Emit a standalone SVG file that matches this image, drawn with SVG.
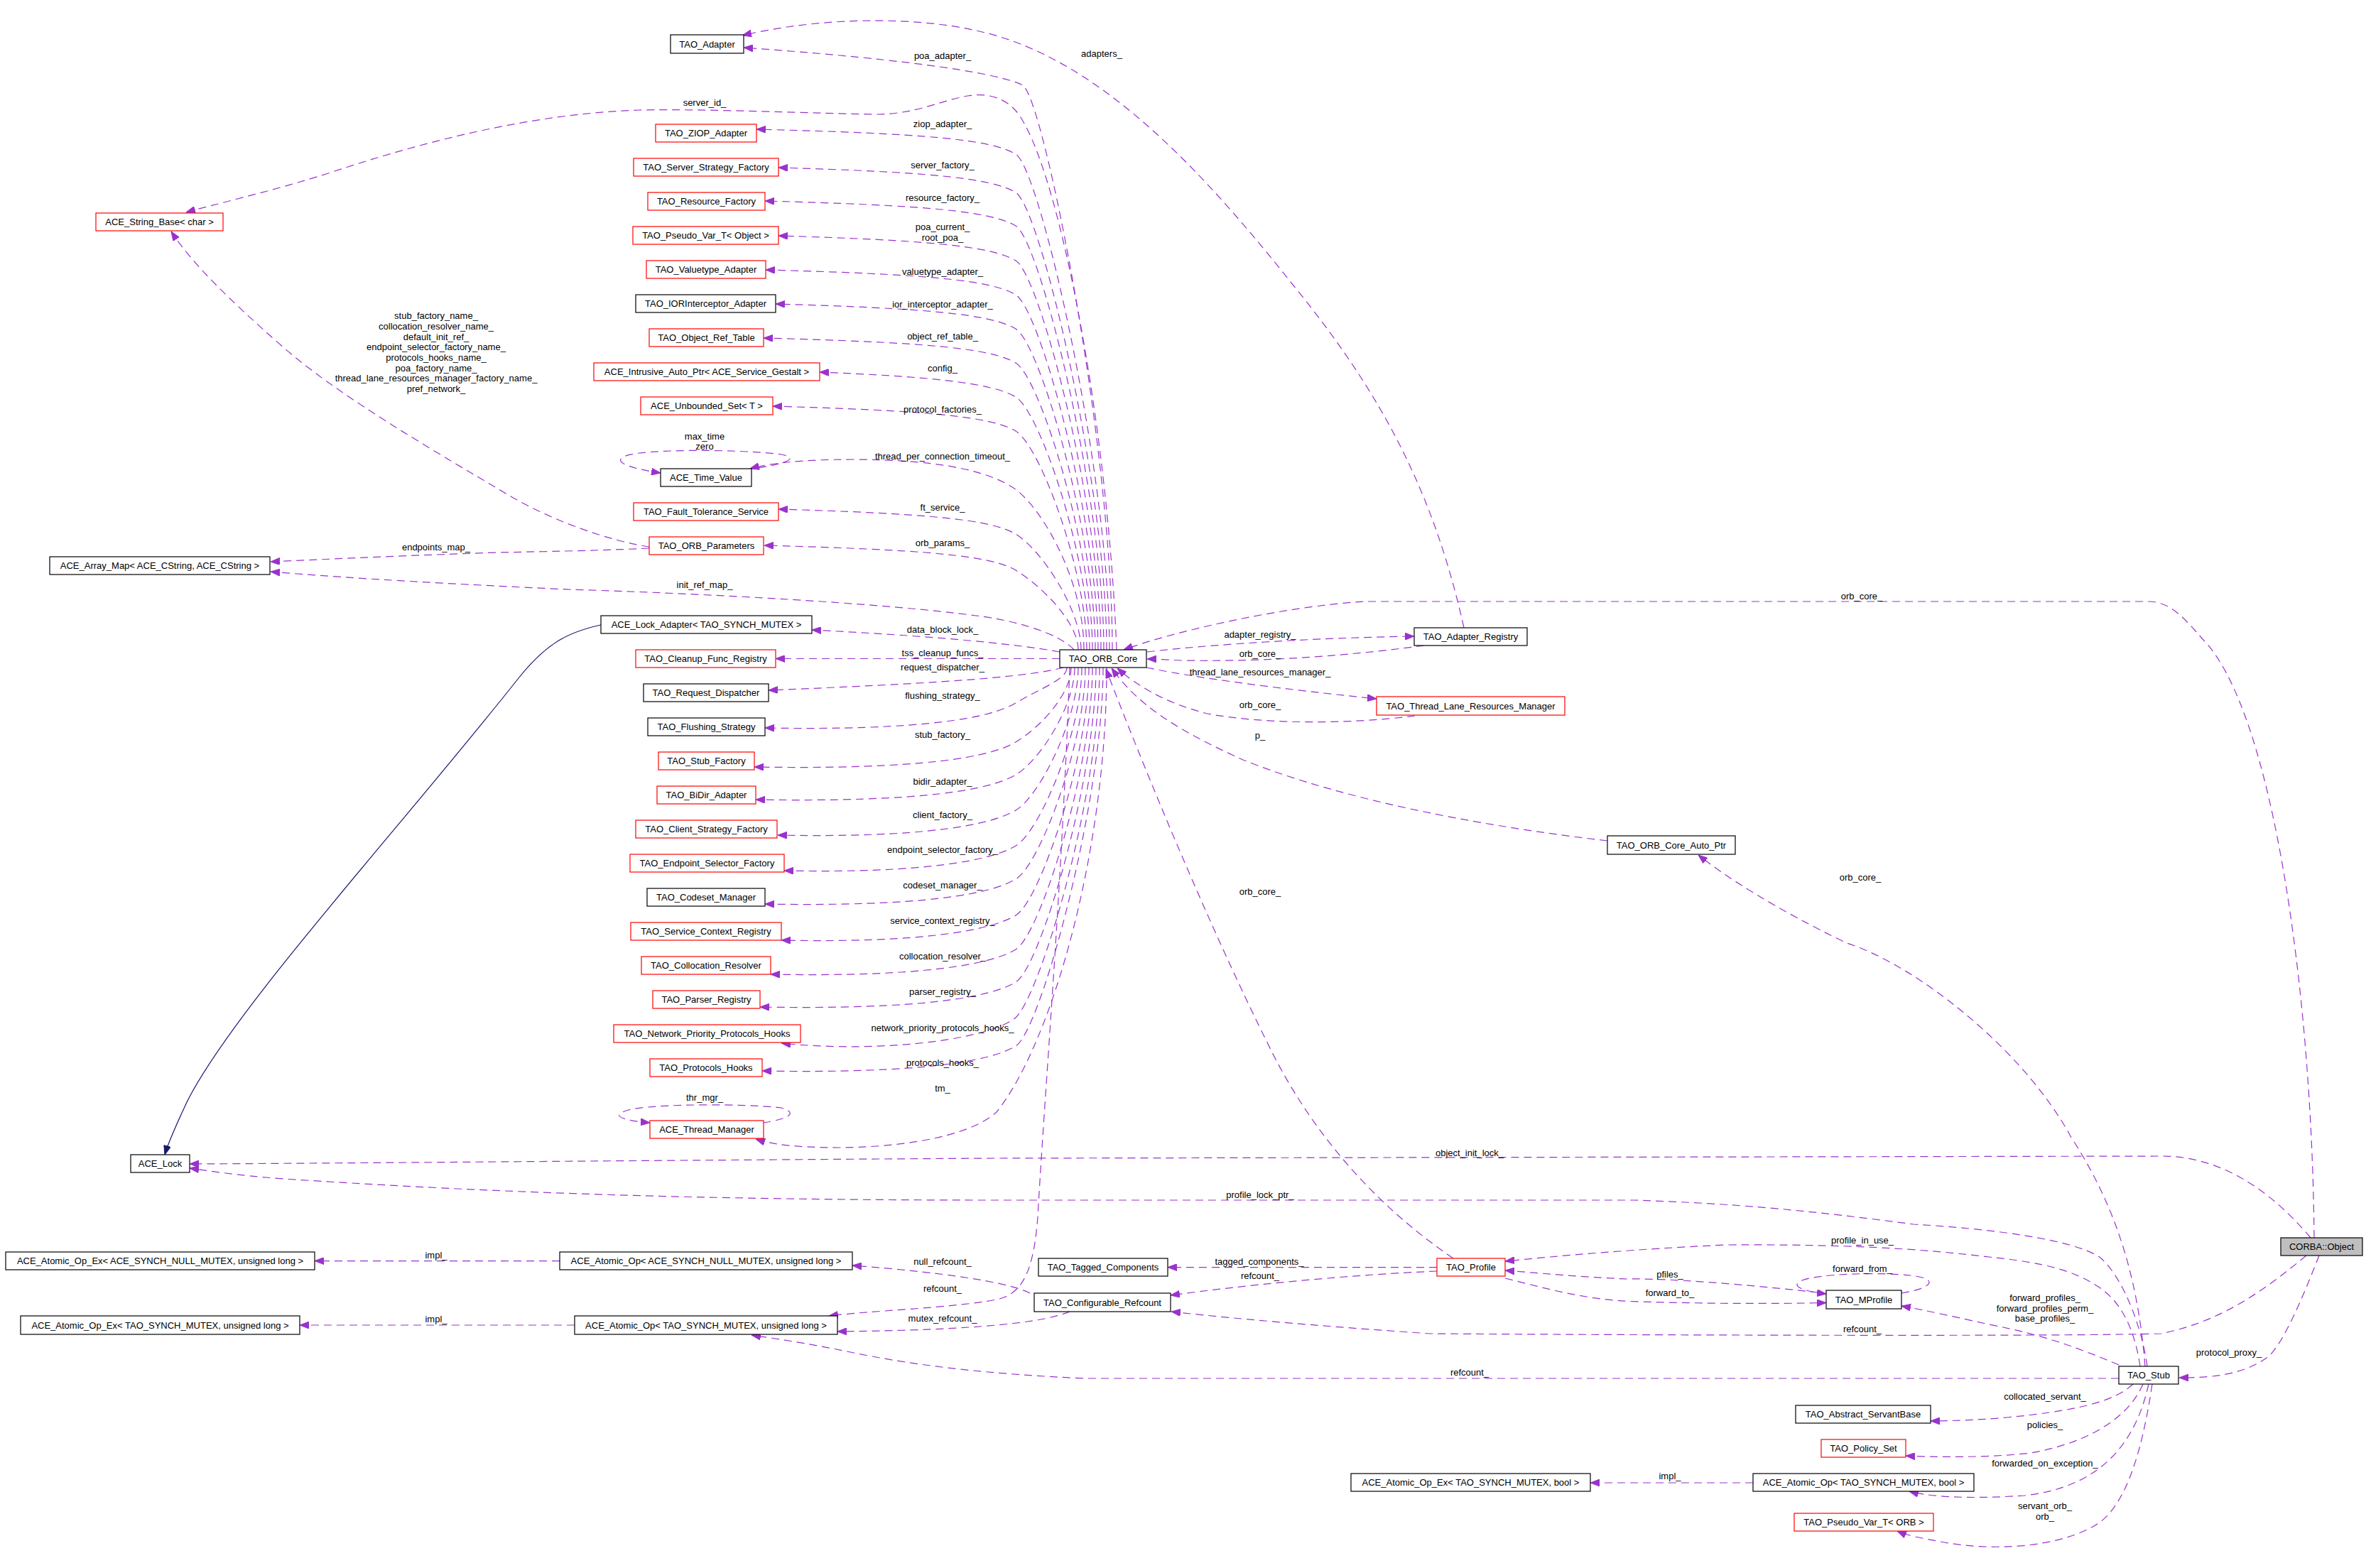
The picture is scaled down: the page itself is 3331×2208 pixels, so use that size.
<svg xmlns="http://www.w3.org/2000/svg" width="3331" height="2208" viewBox="0 0 3331 2208">
<style>
text{font-family:"Liberation Sans",Arial,sans-serif;font-size:13px;fill:#000;text-anchor:middle}
.n rect{fill:#fff;stroke:#000;stroke-width:1.2}
.r rect{fill:#fff;stroke:#ff0000;stroke-width:1.2}
.g rect{fill:#bfbfbf;stroke:#000;stroke-width:1.2}
.e{fill:none;stroke:#9a32cd;stroke-width:1.2;stroke-dasharray:11,7;marker-end:url(#a)}
.i{fill:none;stroke:#191970;stroke-width:1.2;marker-end:url(#b)}
</style>
<defs>
<marker id="a" markerWidth="13" markerHeight="10" refX="13" refY="5" orient="auto" markerUnits="userSpaceOnUse" viewBox="0 0 13 10"><path d="M0,0 L13,5 L0,10 z" fill="#9a32cd" stroke="#9a32cd" stroke-width="1"/></marker>
<marker id="b" markerWidth="13" markerHeight="10" refX="13" refY="5" orient="auto" markerUnits="userSpaceOnUse" viewBox="0 0 13 10"><path d="M0,0 L13,5 L0,10 z" fill="#191970" stroke="#191970" stroke-width="1"/></marker>
</defs>
<rect width="3331" height="2208" fill="#fff"/>
<g id="edges">
<path class="e" d="M1566,915 C1566,630 1470,140 1440,120 C1410,105 1300,85 1047,67"/>
<path class="e" d="M1572,915 C1560,600 1490,230 1431,157 C1415,138 1390,130 1362,135 C1320,143 1290,160 1236,161 C1150,160 1000,153 900,155 C750,160 600,198 459,245 C380,270 300,288 262,299"/>
<path class="e" d="M1562,915 C1562,671 1465,238 1430,217 C1395,196 1300,188 1065,182"/>
<path class="e" d="M1558,915 C1558,690 1465,292 1430,271 C1395,250 1300,242 1096,236"/>
<path class="e" d="M1554,915 C1554,706 1465,339 1430,318 C1395,297 1300,289 1077,283"/>
<path class="e" d="M1550,915 C1550,723 1465,388 1430,367 C1395,346 1300,338 1096,332"/>
<path class="e" d="M1546,915 C1546,740 1465,436 1430,415 C1395,394 1300,386 1078,380"/>
<path class="e" d="M1542,915 C1542,757 1465,484 1430,463 C1395,442 1300,434 1092,428"/>
<path class="e" d="M1538,915 C1538,774 1465,532 1430,511 C1395,490 1300,482 1075,476"/>
<path class="e" d="M1534,915 C1534,790 1465,580 1430,559 C1395,538 1300,530 1154,524"/>
<path class="e" d="M1530,915 C1530,807 1465,628 1430,607 C1395,586 1300,578 1088,572"/>
<path class="e" d="M1526,915 C1526,820 1470,720 1431,690 C1390,660 1310,647 1200,647 C1130,647 1085,652 1056,660"/>
<path class="e" d="M1050,661 C1100,655 1130,646 1100,640 C1060,634 950,632 900,638 C860,643 862,656 930,666"/>
<path class="e" d="M1522,915 C1522,858 1465,773 1430,752 C1395,731 1300,723 1096,717"/>
<path class="e" d="M1518,915 C1518,876 1465,824 1430,803 C1395,782 1300,774 1076,768"/>
<path class="e" d="M914,770 C860,762 780,735 714,696 C620,640 480,560 400,490 C320,420 270,370 241,326"/>
<path class="e" d="M914,772 C850,775 800,776 700,778 C550,783 450,788 381,791"/>
<path class="e" d="M1512,915 C1490,890 1420,872 1374,867 C1250,850 1000,836 800,830 C650,823 500,815 381,805"/>
<path class="e" d="M1492,918 C1420,905 1300,895 1143,887"/>
<path class="e" d="M1492,927.5 L1092,927.5"/>
<path class="e" d="M1497,940 C1440,955 1300,963 1082,972"/>
<path class="e" d="M1502,940 C1502,957 1465,969 1430,990 C1395,1011 1300,1029 1077,1025"/>
<path class="e" d="M1508,940 C1508,977 1465,1024 1430,1045 C1395,1066 1300,1084 1062,1080"/>
<path class="e" d="M1513,940 C1513,993 1465,1070 1430,1091 C1395,1112 1300,1130 1064,1126"/>
<path class="e" d="M1518,940 C1518,1010 1465,1120 1430,1141 C1395,1162 1300,1180 1095,1176"/>
<path class="e" d="M1523,940 C1523,1028 1465,1170 1430,1191 C1395,1212 1300,1230 1104,1226"/>
<path class="e" d="M1528,940 C1528,1044 1465,1217 1430,1238 C1395,1259 1300,1277 1077,1273"/>
<path class="e" d="M1533,940 C1533,1062 1465,1268 1430,1289 C1395,1310 1300,1328 1100,1324"/>
<path class="e" d="M1538,940 C1538,1079 1465,1316 1430,1337 C1395,1358 1300,1376 1085,1372"/>
<path class="e" d="M1543,940 C1543,1095 1465,1362 1430,1383 C1395,1404 1300,1422 1070,1418"/>
<path class="e" d="M1548,940 C1548,1120 1465,1400 1430,1433 C1395,1462 1250,1484 1100,1469"/>
<path class="e" d="M1553,940 C1553,1127 1465,1452 1430,1473 C1395,1494 1300,1512 1073,1508"/>
<path class="e" d="M1558,940 C1558,1200 1480,1470 1403,1566 C1360,1605 1250,1616 1180,1616 C1120,1616 1085,1611 1064,1604"/>
<path class="e" d="M1074,1581 C1110,1576 1125,1567 1100,1560 C1050,1554 920,1554 885,1563 C860,1570 870,1577 915,1581"/>
<path class="e" d="M1506,940 C1495,1250 1470,1550 1461,1714 C1455,1790 1440,1822 1403,1830 C1340,1842 1220,1846 1167,1853"/>
<path class="e" d="M2061,884 C2020,700 1950,560 1821,402 C1700,250 1550,80 1374,43 C1280,22 1150,25 1045,50"/>
<path class="e" d="M1615,918 C1700,908 1850,898 1991,896"/>
<path class="e" d="M2005,909 C1900,923 1790,932 1664,930 C1640,929 1625,928 1615,928"/>
<path class="e" d="M1614,940 C1700,958 1850,975 1938,984"/>
<path class="e" d="M1992,1008 C1900,1020 1780,1020 1700,1005 C1640,990 1600,965 1573,941"/>
<path class="e" d="M2263,1184 C2100,1165 1900,1130 1750,1070 C1650,1025 1600,990 1565,941"/>
<path class="e" d="M2046,1772 C1940,1700 1850,1600 1790,1480 C1700,1300 1610,1080 1557,942"/>
<path class="e" d="M3258,1743 C3255,1400 3200,1000 3101,900 C3075,870 3055,847 3024,847 L1920,847 C1800,855 1650,890 1582,915"/>
<path class="e" d="M3253,1743 C3200,1680 3130,1628 3043,1628 L1400,1631 C900,1634 500,1638 267,1639"/>
<path class="e" d="M3023,1924 C3016,1871 2990,1800 2957,1771 C2920,1745 2800,1730 2694,1724 C2550,1705 2450,1695 2300,1690 L1400,1690 C1000,1690 700,1680 400,1660 C330,1655 290,1648 267,1645"/>
<path class="e" d="M3265,1768 C3240,1832 3215,1890 3194,1910 C3160,1935 3120,1940 3068,1940"/>
<path class="e" d="M3247,1768 C3190,1815 3130,1860 3043,1878 C2900,1882 2300,1880 2014,1878 C1850,1867 1720,1855 1649,1847"/>
<path class="e" d="M3020,1924 C3010,1800 2980,1700 2915,1600 C2850,1480 2700,1360 2600,1328 C2500,1280 2430,1235 2391,1204"/>
<path class="e" d="M2983,1922 C2930,1900 2880,1880 2800,1865 C2760,1856 2710,1845 2677,1839"/>
<path class="e" d="M3013,1924 C3005,1870 2985,1830 2951,1810 C2920,1790 2880,1778 2800,1770 C2700,1758 2600,1752 2430,1753 C2300,1759 2200,1768 2119,1776"/>
<path class="e" d="M2983,1941 L1526,1941 C1400,1935 1300,1925 1202,1905 C1130,1890 1090,1885 1058,1880"/>
<path class="e" d="M3003,1949 C2980,1970 2940,1985 2826,1996 C2780,2000 2740,2001 2718,2001"/>
<path class="e" d="M3017,1949 C3000,1990 2950,2030 2859,2046 C2800,2053 2720,2052 2683,2050"/>
<path class="e" d="M3025,1949 C3005,2040 2950,2095 2850,2106 C2760,2112 2710,2106 2688,2100"/>
<path class="e" d="M3030,1949 C3015,2050 2990,2130 2944,2151 C2890,2180 2800,2185 2727,2170 C2700,2165 2685,2162 2671,2156"/>
<path class="e" d="M2023,1784.6 L1644,1784.6"/>
<path class="e" d="M2023,1790 C1900,1795 1750,1810 1648,1824"/>
<path class="e" d="M2119,1800 C2180,1815 2230,1830 2300,1832.7 C2400,1836 2500,1836 2571,1834.5"/>
<path class="e" d="M2560,1820 C2450,1808 2350,1800 2290,1801 C2220,1798 2160,1792 2119,1789"/>
<path class="e" d="M2677,1821 C2725,1813 2728,1800 2690,1796 C2640,1791 2560,1794 2537,1803 C2520,1810 2535,1818 2571,1822"/>
<path class="e" d="M1450,1821 C1420,1805 1320,1791 1200,1782"/>
<path class="e" d="M1506,1847 C1470,1862 1380,1873 1179,1875"/>
<path class="e" d="M788,1775.6 L443,1775.6"/>
<path class="e" d="M809,1866 L422,1866"/>
<path class="e" d="M2468,2088 L2239,2088"/>
<path class="i" d="M846,880 C800,890 770,905 730,955 C560,1170 330,1420 264,1550 C250,1580 238,1605 232,1626"/>
</g>
<g id="labels">
<text x="1327" y="83">poa_adapter_</text>
<text x="1551" y="80">adapters_</text>
<text x="992" y="149">server_id_</text>
<text x="1327" y="179">ziop_adapter_</text>
<text x="1327" y="237">server_factory_</text>
<text x="1327" y="283">resource_factory_</text>
<text x="1327" y="324">poa_current_</text>
<text x="1327" y="339">root_poa_</text>
<text x="1327" y="387">valuetype_adapter_</text>
<text x="1327" y="433">ior_interceptor_adapter_</text>
<text x="1327" y="478">object_ref_table_</text>
<text x="1327" y="523">config_</text>
<text x="1327" y="581">protocol_factories_</text>
<text x="992" y="619">max_time</text>
<text x="992" y="633">zero</text>
<text x="1327" y="647">thread_per_connection_timeout_</text>
<text x="1327" y="719">ft_service_</text>
<text x="1327" y="769">orb_params_</text>
<text x="614" y="449">stub_factory_name_</text>
<text x="614" y="464">collocation_resolver_name_</text>
<text x="614" y="478.5">default_init_ref_</text>
<text x="614" y="493">endpoint_selector_factory_name_</text>
<text x="614" y="508">protocols_hooks_name_</text>
<text x="614" y="523">poa_factory_name_</text>
<text x="614" y="537">thread_lane_resources_manager_factory_name_</text>
<text x="614" y="552">pref_network_</text>
<text x="614" y="775">endpoints_map_</text>
<text x="992" y="828">init_ref_map_</text>
<text x="1327" y="891">data_block_lock_</text>
<text x="1327" y="924">tss_cleanup_funcs_</text>
<text x="1327" y="944">request_dispatcher_</text>
<text x="1327" y="984">flushing_strategy_</text>
<text x="1327" y="1039">stub_factory_</text>
<text x="1327" y="1105">bidir_adapter_</text>
<text x="1327" y="1152">client_factory_</text>
<text x="1327" y="1201">endpoint_selector_factory_</text>
<text x="1327" y="1251">codeset_manager_</text>
<text x="1327" y="1301">service_context_registry_</text>
<text x="1327" y="1351">collocation_resolver_</text>
<text x="1327" y="1401">parser_registry_</text>
<text x="1327" y="1452">network_priority_protocols_hooks_</text>
<text x="1327" y="1501">protocols_hooks_</text>
<text x="1327" y="1537">tm_</text>
<text x="992" y="1550">thr_mgr_</text>
<text x="2621" y="844">orb_core_</text>
<text x="1774" y="898">adapter_registry_</text>
<text x="1774" y="925">orb_core_</text>
<text x="1774" y="951">thread_lane_resources_manager_</text>
<text x="1774" y="997">orb_core_</text>
<text x="1774" y="1040">p_</text>
<text x="1774" y="1260">orb_core_</text>
<text x="2619" y="1240">orb_core_</text>
<text x="2069" y="1628">object_init_lock_</text>
<text x="1774" y="1687">profile_lock_ptr_</text>
<text x="1327" y="1781">null_refcount_</text>
<text x="1773" y="1781">tagged_components_</text>
<text x="1774" y="1801">refcount_</text>
<text x="1327" y="1819">refcount_</text>
<text x="1327" y="1861">mutex_refcount_</text>
<text x="614" y="1772">impl_</text>
<text x="614" y="1862">impl_</text>
<text x="2622" y="1751">profile_in_use_</text>
<text x="2622" y="1791">forward_from_</text>
<text x="2351" y="1799">pfiles_</text>
<text x="2351" y="1825">forward_to_</text>
<text x="2879" y="1832">forward_profiles_</text>
<text x="2879" y="1847">forward_profiles_perm_</text>
<text x="2879" y="1861">base_profiles_</text>
<text x="2622" y="1876">refcount_</text>
<text x="2069" y="1937">refcount_</text>
<text x="3138" y="1909">protocol_proxy_</text>
<text x="2879" y="1971">collocated_servant_</text>
<text x="2879" y="2011">policies_</text>
<text x="2879" y="2065">forwarded_on_exception_</text>
<text x="2351" y="2083">impl_</text>
<text x="2879" y="2125">servant_orb_</text>
<text x="2879" y="2140">orb_</text>
</g>
<g id="n1" class="n"><rect x="944" y="49" width="103" height="26"/><text x="995.5" y="66.5">TAO_Adapter</text></g>
<g id="n2" class="r"><rect x="923" y="175" width="142" height="25"/><text x="994" y="192">TAO_ZIOP_Adapter</text></g>
<g id="n3" class="r"><rect x="892" y="223" width="204" height="25"/><text x="994" y="240">TAO_Server_Strategy_Factory</text></g>
<g id="n4" class="r"><rect x="912" y="271" width="165" height="25"/><text x="994.5" y="288">TAO_Resource_Factory</text></g>
<g id="n5" class="r"><rect x="891" y="319" width="205" height="25"/><text x="993.5" y="336">TAO_Pseudo_Var_T&lt; Object &gt;</text></g>
<g id="n6" class="r"><rect x="910" y="367" width="168" height="25"/><text x="994" y="384">TAO_Valuetype_Adapter</text></g>
<g id="n7" class="n"><rect x="895" y="415" width="197" height="25"/><text x="993.5" y="432">TAO_IORInterceptor_Adapter</text></g>
<g id="n8" class="r"><rect x="914" y="463" width="161" height="25"/><text x="994.5" y="480">TAO_Object_Ref_Table</text></g>
<g id="n9" class="r"><rect x="836" y="511" width="318" height="25"/><text x="995" y="528">ACE_Intrusive_Auto_Ptr&lt; ACE_Service_Gestalt &gt;</text></g>
<g id="n10" class="r"><rect x="902" y="559" width="186" height="25"/><text x="995" y="576">ACE_Unbounded_Set&lt; T &gt;</text></g>
<g id="n11" class="n"><rect x="930" y="660" width="128" height="25"/><text x="994" y="677">ACE_Time_Value</text></g>
<g id="n12" class="r"><rect x="892" y="708" width="204" height="25"/><text x="994" y="725">TAO_Fault_Tolerance_Service</text></g>
<g id="n13" class="r"><rect x="914" y="756" width="161" height="25"/><text x="994.5" y="773">TAO_ORB_Parameters</text></g>
<g id="n14" class="n"><rect x="846" y="867" width="297" height="25"/><text x="994.5" y="884">ACE_Lock_Adapter&lt; TAO_SYNCH_MUTEX &gt;</text></g>
<g id="n15" class="r"><rect x="895" y="915" width="197" height="25"/><text x="993.5" y="932">TAO_Cleanup_Func_Registry</text></g>
<g id="n16" class="n"><rect x="906" y="963" width="176" height="25"/><text x="994" y="980">TAO_Request_Dispatcher</text></g>
<g id="n17" class="n"><rect x="912" y="1011" width="165" height="25"/><text x="994.5" y="1028">TAO_Flushing_Strategy</text></g>
<g id="n18" class="r"><rect x="927" y="1059" width="135" height="25"/><text x="994.5" y="1076">TAO_Stub_Factory</text></g>
<g id="n19" class="r"><rect x="925" y="1107" width="139" height="25"/><text x="994.5" y="1124">TAO_BiDir_Adapter</text></g>
<g id="n20" class="r"><rect x="895" y="1155" width="199" height="25"/><text x="994.5" y="1172">TAO_Client_Strategy_Factory</text></g>
<g id="n21" class="r"><rect x="887" y="1203" width="217" height="25"/><text x="995.5" y="1220">TAO_Endpoint_Selector_Factory</text></g>
<g id="n22" class="n"><rect x="911" y="1251" width="166" height="25"/><text x="994" y="1268">TAO_Codeset_Manager</text></g>
<g id="n23" class="r"><rect x="888" y="1299" width="212" height="25"/><text x="994" y="1316">TAO_Service_Context_Registry</text></g>
<g id="n24" class="r"><rect x="903" y="1347" width="182" height="25"/><text x="994" y="1364">TAO_Collocation_Resolver</text></g>
<g id="n25" class="r"><rect x="919" y="1395" width="151" height="25"/><text x="994.5" y="1412">TAO_Parser_Registry</text></g>
<g id="n26" class="r"><rect x="864" y="1443" width="263" height="25"/><text x="995.5" y="1460">TAO_Network_Priority_Protocols_Hooks</text></g>
<g id="n27" class="r"><rect x="915" y="1491" width="158" height="25"/><text x="994" y="1508">TAO_Protocols_Hooks</text></g>
<g id="n28" class="r"><rect x="915" y="1578" width="160" height="25"/><text x="995" y="1595">ACE_Thread_Manager</text></g>
<g id="n29" class="n"><rect x="1492" y="915" width="122" height="25"/><text x="1553" y="932">TAO_ORB_Core</text></g>
<g id="n30" class="r"><rect x="135" y="300" width="179" height="25"/><text x="224.5" y="317">ACE_String_Base&lt; char &gt;</text></g>
<g id="n31" class="n"><rect x="70" y="784" width="310" height="25"/><text x="225" y="801">ACE_Array_Map&lt; ACE_CString, ACE_CString &gt;</text></g>
<g id="n32" class="n"><rect x="184" y="1626" width="83" height="25"/><text x="225.5" y="1643">ACE_Lock</text></g>
<g id="n33" class="n"><rect x="8" y="1763" width="435" height="25"/><text x="225.5" y="1780">ACE_Atomic_Op_Ex&lt; ACE_SYNCH_NULL_MUTEX, unsigned long &gt;</text></g>
<g id="n34" class="n"><rect x="29" y="1853" width="393" height="26"/><text x="225.5" y="1870.5">ACE_Atomic_Op_Ex&lt; TAO_SYNCH_MUTEX, unsigned long &gt;</text></g>
<g id="n35" class="n"><rect x="788" y="1763" width="412" height="25"/><text x="994" y="1780">ACE_Atomic_Op&lt; ACE_SYNCH_NULL_MUTEX, unsigned long &gt;</text></g>
<g id="n36" class="n"><rect x="809" y="1853" width="370" height="26"/><text x="994" y="1870.5">ACE_Atomic_Op&lt; TAO_SYNCH_MUTEX, unsigned long &gt;</text></g>
<g id="n37" class="n"><rect x="1462" y="1772" width="182" height="25"/><text x="1553" y="1789">TAO_Tagged_Components</text></g>
<g id="n38" class="n"><rect x="1456" y="1821" width="192" height="26"/><text x="1552" y="1838.5">TAO_Configurable_Refcount</text></g>
<g id="n39" class="r"><rect x="2023" y="1772" width="96" height="25"/><text x="2071" y="1789">TAO_Profile</text></g>
<g id="n40" class="n"><rect x="2571" y="1817" width="106" height="26"/><text x="2624" y="1834.5">TAO_MProfile</text></g>
<g id="n41" class="n"><rect x="2983" y="1924" width="84" height="25"/><text x="3025" y="1941">TAO_Stub</text></g>
<g id="n42" class="g"><rect x="3211" y="1743" width="115" height="25"/><text x="3268.5" y="1760">CORBA::Object</text></g>
<g id="n43" class="n"><rect x="2528" y="1979" width="190" height="25"/><text x="2623" y="1996">TAO_Abstract_ServantBase</text></g>
<g id="n44" class="r"><rect x="2564" y="2027" width="119" height="25"/><text x="2623.5" y="2044">TAO_Policy_Set</text></g>
<g id="n45" class="n"><rect x="2468" y="2075" width="311" height="25"/><text x="2623.5" y="2092">ACE_Atomic_Op&lt; TAO_SYNCH_MUTEX, bool &gt;</text></g>
<g id="n46" class="n"><rect x="1902" y="2075" width="337" height="25"/><text x="2070.5" y="2092">ACE_Atomic_Op_Ex&lt; TAO_SYNCH_MUTEX, bool &gt;</text></g>
<g id="n47" class="r"><rect x="2526" y="2131" width="196" height="25"/><text x="2624" y="2148">TAO_Pseudo_Var_T&lt; ORB &gt;</text></g>
<g id="n48" class="n"><rect x="1991" y="884" width="159" height="25"/><text x="2070.5" y="901">TAO_Adapter_Registry</text></g>
<g id="n49" class="r"><rect x="1938" y="981" width="265" height="26"/><text x="2070.5" y="998.5">TAO_Thread_Lane_Resources_Manager</text></g>
<g id="n50" class="n"><rect x="2263" y="1177" width="180" height="26"/><text x="2353" y="1194.5">TAO_ORB_Core_Auto_Ptr</text></g>
</svg>
